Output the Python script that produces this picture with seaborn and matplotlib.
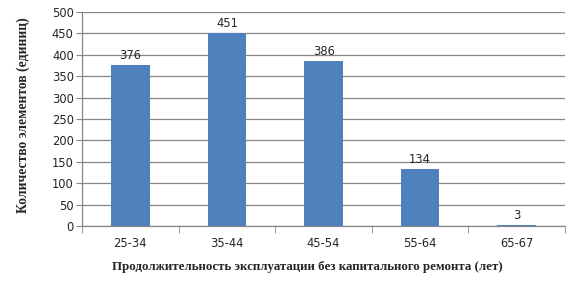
import matplotlib
matplotlib.use("Agg")
import matplotlib.pyplot as plt
import seaborn as sns
import pandas as pd
import numpy as np

categories = ["25-34", "35-44", "45-54", "55-64", "65-67"]
values = [376, 451, 386, 134, 3]
yticks = [0, 50, 100, 150, 200, 250, 300, 350, 400, 450, 500]

df = pd.DataFrame({"cat": categories, "val": values})

sns.set_style("white")
plt.rcParams['font.family'] = ['DejaVu Sans']

fig = plt.figure(figsize=(5.76, 2.93), dpi=100)
ax = fig.add_axes([0.1424, 0.2287, 0.981 - 0.1424, 0.959 - 0.2287])

sns.barplot(data=df, x="cat", y="val", color="#4F81BD", width=0.4, saturation=1,
            linewidth=0, edgecolor="none", ax=ax, zorder=3)

ax.set_xlim(-0.5, len(categories) - 0.5)
ax.set_ylim(0, 500)
ax.set_yticks(yticks)
ax.yaxis.grid(True, color="#878787", linewidth=0.9, zorder=0)
ax.set_axisbelow(True)

for s in ["top", "right"]:
    ax.spines[s].set_visible(False)
for s in ["left", "bottom"]:
    ax.spines[s].set_color("#878787")
    ax.spines[s].set_linewidth(0.9)

ax.tick_params(axis="y", which="major", length=4, color="#878787", labelsize=8.3, pad=2, left=True)
ax.tick_params(axis="x", which="major", length=0, labelsize=8.3, pad=8)
ax.set_xticks(np.arange(-0.5, len(categories), 1.0), minor=True)
ax.tick_params(axis="x", which="minor", length=5, color="#878787", bottom=True)

for i, v in enumerate(values):
    ax.text(i, v + 7, str(v), ha="center", va="bottom", fontsize=8.3)

ax.set_xlabel("Продолжительность эксплуатации без капитального ремонта (лет)",
              fontsize=9.3, fontweight="bold", family="Liberation Serif")
ax.set_ylabel("Количество элементов (единиц)",
              fontsize=9.8, fontweight="bold", family="Liberation Serif")
ax.xaxis.set_label_coords(0.467, -0.165)
ax.yaxis.set_label_coords(-0.108, 0.52)

fig.savefig("out.png", dpi=100)
